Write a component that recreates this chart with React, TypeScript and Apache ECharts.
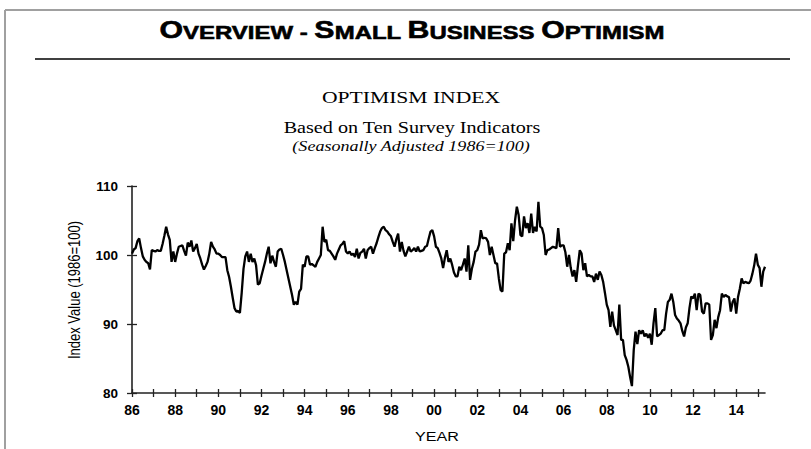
import React, { useEffect, useRef } from "react";
import * as echarts from "echarts";

// NFIB Small Business Optimism Index, monthly, seasonally adjusted (1986 = 100)
const startYear = 1986;
const values1986to1990 = [
  100.2, 100.8, 101.0, 102.0, 102.4, 101.0, 99.8, 99.3, 99.0, 98.8, 97.9, 100.7,
  100.6, 100.5, 100.7, 100.6, 100.6, 101.6, 102.8, 104.1, 103.0, 102.2, 99.0, 100.5,
  99.0, 100.2, 101.2, 101.3, 101.4, 100.6, 99.9, 101.8, 101.2, 102.1, 100.5, 101.0,
  101.6, 100.2, 99.5, 98.6, 97.9, 98.4, 99.0, 100.2, 101.9, 101.2, 100.8, 100.2,
  100.2, 100.0, 99.7, 99.7, 99.7, 97.8, 96.8, 95.4, 93.8, 92.3, 91.8, 91.9,
];
const values1991to1995 = [
  91.6, 94.5, 98.0, 99.8, 100.5, 99.0, 100.2, 99.0, 99.5, 98.5, 95.7, 95.9,
  97.0, 98.0, 99.0, 100.2, 101.2, 98.8, 99.9, 99.0, 98.3, 100.5, 100.8, 100.9,
  100.0, 99.0, 97.8, 96.6, 95.4, 94.2, 92.8, 93.2, 92.8, 94.7, 95.1, 98.6,
  98.3, 99.8, 99.8, 98.6, 98.7, 98.5, 98.3, 99.0, 99.5, 100.0, 104.1, 101.9,
  102.2, 100.7, 100.6, 100.2, 99.8, 99.3, 100.2, 100.8, 101.4, 101.6, 102.0, 100.5,
];
const values1996to2000 = [
  100.2, 100.5, 100.0, 100.2, 99.7, 100.9, 99.5, 100.3, 100.5, 100.9, 99.5, 100.7,
  101.0, 101.2, 100.2, 101.0, 101.7, 102.6, 103.4, 103.9, 104.1, 103.6, 103.4, 103.0,
  102.7, 101.9, 101.2, 102.3, 103.1, 100.5, 101.9, 100.6, 99.8, 100.5, 101.2, 100.5,
  100.7, 101.0, 100.5, 101.2, 100.5, 100.6, 100.7, 101.2, 101.3, 102.4, 103.4, 103.6,
  102.7, 101.2, 101.0, 100.3, 99.5, 98.1, 99.6, 100.7, 99.0, 99.5, 98.6, 97.5,
];
const values2001to2005 = [
  96.9, 96.9, 98.3, 97.8, 98.6, 99.5, 97.6, 101.4, 96.4, 98.0, 99.0, 100.5,
  100.7, 101.5, 103.6, 102.4, 102.5, 102.4, 101.9, 100.0, 101.2, 100.0, 98.8, 98.8,
  96.6, 94.9, 94.7, 100.2, 100.4, 101.7, 100.7, 104.6, 102.0, 105.0, 107.0, 105.8,
  102.9, 102.7, 105.6, 103.9, 104.6, 103.2, 106.0, 103.2, 104.1, 103.4, 107.7, 104.1,
  103.9, 102.9, 100.0, 100.7, 100.8, 101.0, 101.2, 101.1, 101.0, 103.9, 101.2, 101.4,
];
const values2006to2010 = [
  101.4, 100.4, 98.3, 100.0, 98.1, 96.9, 97.8, 96.1, 98.5, 100.7, 100.2, 97.8,
  98.8, 96.9, 97.1, 96.9, 96.9, 96.1, 97.3, 96.4, 97.6, 97.1, 96.1, 94.5,
  92.8, 92.0, 89.6, 91.8, 89.8, 89.1, 88.4, 92.8, 87.7, 87.7, 85.5, 84.8,
  83.8, 82.3, 81.0, 86.2, 88.9, 87.1, 89.1, 88.6, 89.1, 88.2, 88.6, 88.0,
  88.6, 87.0, 90.1, 92.3, 88.2, 88.4, 88.6, 89.1, 89.1, 91.5, 93.2, 93.5,
];
const values2011to2015 = [
  94.4, 93.2, 91.3, 90.8, 90.5, 90.1, 89.0, 88.2, 89.5, 90.1, 92.3, 94.0,
  93.7, 94.4, 92.0, 94.4, 94.2, 91.8, 91.5, 93.0, 93.0, 92.8, 87.7, 88.4,
  90.6, 89.4, 91.0, 92.0, 94.4, 93.9, 94.2, 94.0, 93.9, 91.8, 93.2, 93.7,
  91.5, 93.9, 95.1, 96.6, 95.9, 96.1, 96.0, 95.9, 96.3, 97.3, 98.5, 100.2,
  98.6, 98.1, 95.4, 97.6, 98.3,
];

const tickYears = [
  1986, 1987, 1988, 1989, 1990, 1991, 1992, 1993, 1994, 1995, 1996, 1997, 1998, 1999, 2000,
  2001, 2002, 2003, 2004, 2005, 2006, 2007, 2008, 2009, 2010, 2011, 2012, 2013, 2014, 2015,
];
const labelYears = [1986, 1988, 1990, 1992, 1994, 1996, 1998, 2000, 2002, 2004, 2006, 2008, 2010, 2012, 2014];
const yTicks = [80, 90, 100, 110];

const SANS = "'Liberation Sans', Arial, sans-serif";
const SERIF = "'Liberation Serif', 'Times New Roman', serif";

export default function App() {
  const ref = useRef<HTMLDivElement>(null);

  useEffect(() => {
    if (!ref.current) return;
    const chart = echarts.init(ref.current, undefined, { renderer: "svg" });
    const all = [
      ...values1986to1990,
      ...values1991to1995,
      ...values1996to2000,
      ...values2001to2005,
      ...values2006to2010,
      ...values2011to2015,
    ];
    const data = all.map((v, i) => [startYear + i / 12, v]);
    const xMax = startYear + (all.length - 1) / 12;
    const fmt = (v: number) => String(Math.round(v) % 100).padStart(2, "0");
    const axisColor = "#222";

    chart.setOption({
      animation: false,
      backgroundColor: "#ffffff",
      grid: { left: 132, right: 46, top: 186, bottom: 56, containLabel: false },
      xAxis: [
        {
          type: "value",
          position: "bottom",
          min: startYear,
          max: xMax,
          splitLine: { show: false },
          axisLine: { show: true, onZero: false, lineStyle: { color: axisColor, width: 1.6 } },
          axisTick: { show: true, inside: false, length: 4, customValues: tickYears, lineStyle: { color: axisColor, width: 1.3 } },
          axisLabel: {
            customValues: labelYears,
            formatter: fmt,
            color: "#000",
            fontSize: 14,
            fontWeight: "bold",
            fontFamily: SANS,
            margin: 10,
          },
        },
        {
          type: "value",
          position: "bottom",
          min: startYear,
          max: xMax,
          splitLine: { show: false },
          axisLine: { show: false, onZero: false },
          axisTick: { show: true, inside: true, length: 4, customValues: tickYears, lineStyle: { color: axisColor, width: 1.3 } },
          axisLabel: { show: false },
        },
      ],
      yAxis: [
        {
          type: "value",
          position: "left",
          min: yTicks[0],
          max: yTicks[yTicks.length - 1],
          interval: 10,
          splitLine: { show: false },
          axisLine: { show: true, onZero: false, lineStyle: { color: axisColor, width: 1.6 } },
          axisTick: { show: true, inside: false, length: 5, lineStyle: { color: axisColor, width: 1.3 } },
          axisLabel: { color: "#000", fontSize: 13.5, fontWeight: "bold", fontFamily: SANS, margin: 14 },
        },
        {
          type: "value",
          position: "left",
          offset: 0,
          min: yTicks[0],
          max: yTicks[yTicks.length - 1],
          interval: 10,
          splitLine: { show: false },
          axisLine: { show: false, onZero: false },
          axisTick: { show: true, inside: true, length: 5, lineStyle: { color: axisColor, width: 1.3 } },
          axisLabel: { show: false },
        },
      ],
      series: [
        {
          type: "line",
          xAxisIndex: 0,
          yAxisIndex: 0,
          data,
          showSymbol: false,
          symbol: "none",
          lineStyle: { color: "#000", width: 2.3 },
          clip: false,
        },
      ],
      graphic: [
        { type: "line", shape: { x1: 5, y1: 10, x2: 811, y2: 10 }, style: { stroke: "#a0a0a0", lineWidth: 2 } },
        { type: "line", shape: { x1: 5, y1: 10, x2: 5, y2: 449 }, style: { stroke: "#a0a0a0", lineWidth: 2 } },
        { type: "line", shape: { x1: 35, y1: 59, x2: 790, y2: 59 }, style: { stroke: "#000", lineWidth: 1.5 } },
        {
          type: "text",
          x: 412,
          y: 42,
          scaleX: 1.26,
          style: {
            text: "{b|O}{s|VERVIEW - }{b|S}{s|MALL }{b|B}{s|USINESS }{b|O}{s|PTIMISM}",
            align: "center",
            verticalAlign: "bottom",
            fill: "#000",
            rich: {
              b: { fontSize: 24, fontWeight: "bold", fontFamily: SANS, fill: "#000", stroke: "#000", lineWidth: 0.6, verticalAlign: "bottom", lineHeight: 24 },
              s: { fontSize: 19, fontWeight: "bold", fontFamily: SANS, fill: "#000", stroke: "#000", lineWidth: 0.6, verticalAlign: "bottom", lineHeight: 24 },
            },
          },
        },
        {
          type: "text",
          x: 411,
          y: 97,
          scaleX: 1.27,
          style: { text: "OPTIMISM INDEX", align: "center", verticalAlign: "middle", fontSize: 17, fontFamily: SERIF, fill: "#000" },
        },
        {
          type: "text",
          x: 412,
          y: 128,
          scaleX: 1.26,
          style: { text: "Based on Ten Survey Indicators", align: "center", verticalAlign: "middle", fontSize: 16, fontFamily: SERIF, fill: "#000" },
        },
        {
          type: "text",
          x: 411,
          y: 146,
          scaleX: 1.29,
          style: { text: "(Seasonally Adjusted 1986=100)", align: "center", verticalAlign: "middle", fontSize: 14, fontStyle: "italic", fontFamily: SERIF, fill: "#000" },
        },
        {
          type: "text",
          x: 75,
          y: 290,
          rotation: Math.PI / 2,
          scaleY: 1.2,
          style: { text: "Index Value (1986=100)", align: "center", verticalAlign: "middle", fontSize: 13, fontFamily: SANS, fill: "#000" },
        },
        {
          type: "text",
          x: 437,
          y: 437,
          scaleX: 1.24,
          style: { text: "YEAR", align: "center", verticalAlign: "middle", fontSize: 13, fontFamily: SANS, fill: "#000" },
        },
      ],
    });
    return () => chart.dispose();
  }, []);

  return (
    <div
      ref={ref}
      style={{ position: "fixed", left: 0, top: 0, width: 811, height: 449, background: "#fff" }}
    />
  );
}
